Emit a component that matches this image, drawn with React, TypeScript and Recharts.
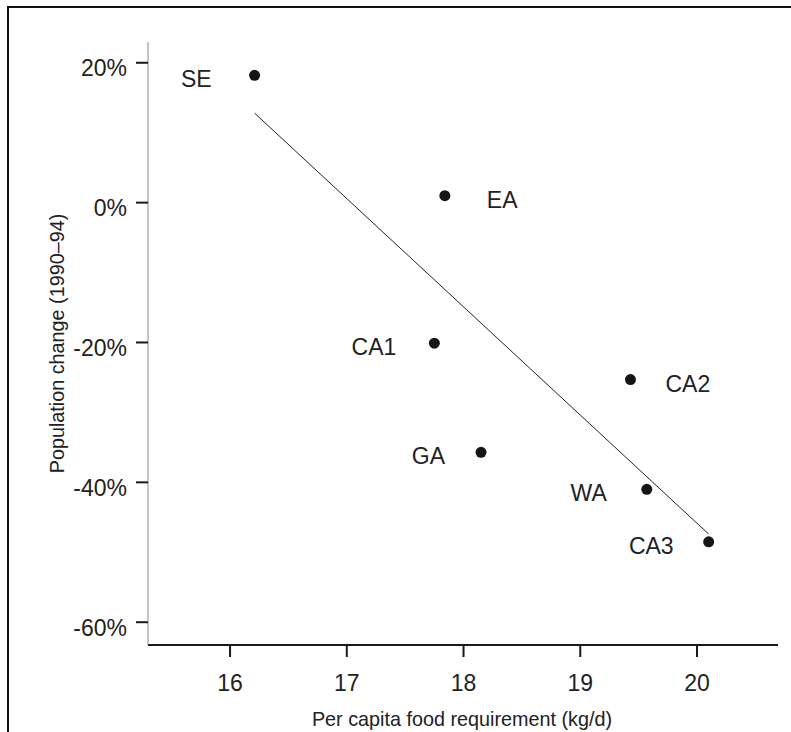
import React from 'react';
import { ScatterChart, Scatter, XAxis, YAxis, ReferenceLine } from 'recharts';

const regions = ['SE', 'EA', 'CA1', 'CA2', 'GA', 'WA', 'CA3'];
const foodReq = [16.21, 17.84, 17.75, 19.43, 18.15, 19.57, 20.1];
const popChange = [18.2, 1.0, -20.1, -25.3, -35.7, -41.0, -48.5];
const xTicks = [16, 17, 18, 19, 20];
const yTicks = [20, 0, -20, -40, -60];
const trendX = [16.21, 20.1];
const trendY = [12.8, -47.4];

// label offsets (style)
const labelDx: Record<string, number> = { SE: -43, EA: 42, CA1: -38, CA2: 35, GA: -36, WA: -40, CA3: -35 };

const data = regions.map((r, i) => ({ name: r, x: foodReq[i], y: popChange[i] }));

const FONT = '"Liberation Sans", Arial, Helvetica, sans-serif';
const TEXT = '#222';

const PointShape = (props: any) => {
  const { cx, cy, payload } = props;
  const dx = labelDx[payload.name] ?? 38;
  return (
    <g>
      <circle cx={cx} cy={cy} r={5.5} fill="#151515" />
      <text
        x={cx + dx}
        y={cy + 12}
        textAnchor={dx < 0 ? 'end' : 'start'}
        fontSize={23}
        fontFamily={FONT}
        fill={TEXT}
      >
        {payload.name}
      </text>
    </g>
  );
};

const XTick = (props: any) => {
  const { x, y, payload } = props;
  return (
    <text x={x} y={y + 34} textAnchor="middle" fontSize={23} fontFamily={FONT} fill={TEXT}>
      {payload.value}
    </text>
  );
};

const YTick = (props: any) => {
  const { x, y, payload } = props;
  return (
    <text x={x} y={y + 13.5} textAnchor="end" fontSize={23} fontFamily={FONT} fill={TEXT}>
      {payload.value + '%'}
    </text>
  );
};

const XLabel = (props: any) => {
  const { viewBox } = props;
  const cx = viewBox.x + viewBox.width / 2;
  return (
    <text x={cx - 1} y={viewBox.y + 81} textAnchor="middle" fontSize={19.8} fontFamily={FONT} fill={TEXT}>
      Per capita food requirement (kg/d)
    </text>
  );
};

const YLabel = (props: any) => {
  const { viewBox } = props;
  const x = viewBox.x + 49;
  const y = viewBox.y + viewBox.height / 2;
  return (
    <text
      x={x}
      y={y}
      transform={`rotate(-90, ${x}, ${y})`}
      textAnchor="middle"
      dominantBaseline="central"
      fontSize={19.8}
      fontFamily={FONT}
      fill={TEXT}
    >
      Population change (1990–94)
    </text>
  );
};

export default function App() {
  return (
    <div style={{ position: 'absolute', left: 0, top: 0, width: 791, height: 732, background: '#fff', overflow: 'hidden' }}>
      <div
        style={{
          position: 'absolute',
          left: 7,
          top: 6,
          right: -10,
          bottom: -10,
          borderTop: '2px solid #111',
          borderLeft: '2px solid #111',
        }}
      />
      <div style={{ position: 'absolute', left: 0, top: 0 }}>
        <ScatterChart width={791} height={732} margin={{ top: 42, right: 13, bottom: 0, left: 8 }}>
          <XAxis
            type="number"
            dataKey="x"
            domain={[15.297, 20.694]}
            ticks={xTicks}
            height={87}
            allowDataOverflow
            axisLine={{ stroke: '#1a1a1a', strokeWidth: 2 }}
            tickLine={{ stroke: '#1a1a1a', strokeWidth: 2 }}
            tickSize={12}
            tickMargin={0}
            tick={<XTick />}
            label={<XLabel />}
          />
          <YAxis
            type="number"
            dataKey="y"
            domain={[-63.26, 22.97]}
            ticks={yTicks}
            width={140}
            allowDataOverflow
            axisLine={{ stroke: '#888', strokeWidth: 1 }}
            tickLine={{ stroke: '#1a1a1a', strokeWidth: 2 }}
            tickSize={12}
            tickMargin={9}
            tick={<YTick />}
            label={<YLabel />}
          />
          <ReferenceLine
            segment={[
              { x: trendX[0], y: trendY[0] },
              { x: trendX[1], y: trendY[1] },
            ]}
            stroke="#222"
            strokeWidth={1}
          />
          <Scatter data={data} shape={<PointShape />} isAnimationActive={false} />
        </ScatterChart>
      </div>
    </div>
  );
}
